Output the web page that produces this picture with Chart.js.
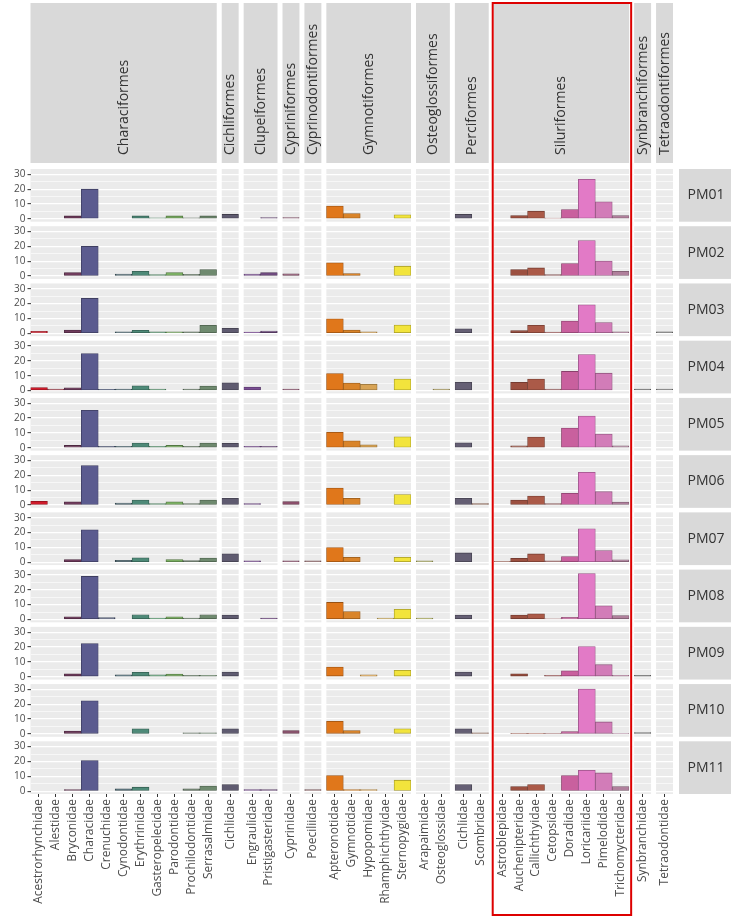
<!DOCTYPE html>
<html>
<head>
<meta charset="utf-8">
<script src="https://cdn.jsdelivr.net/npm/chart.js@4.4.1/dist/chart.umd.min.js"></script>
<style>
  html, body { margin: 0; padding: 0; background: #fff; }
  canvas { display: block; }
</style>
</head>
<body>
<canvas id="fish-chart" width="731" height="919"></canvas>
<script>
const orders = ['Characiformes', 'Cichliformes', 'Clupeiformes', 'Cypriniformes', 'Cyprinodontiformes',
  'Gymnotiformes', 'Osteoglossiformes', 'Perciformes', 'Siluriformes', 'Synbranchiformes', 'Tetraodontiformes'];

const familiesByOrder = [
  ['Acestrorhynchidae', 'Alestidae', 'Bryconidae', 'Characidae', 'Crenuchidae', 'Cynodontidae',
   'Erythrinidae', 'Gasteropelecidae', 'Parodontidae', 'Prochilodontidae', 'Serrasalmidae'],
  ['Cichlidae'],
  ['Engraulidae', 'Pristigasteridae'],
  ['Cyprinidae'],
  ['Poeciliidae'],
  ['Apteronotidae', 'Gymnotidae', 'Hypopomidae', 'Rhamphichthyidae', 'Sternopygidae'],
  ['Arapaimidae', 'Osteoglossidae'],
  ['Cichlidae', 'Scombridae'],
  ['Astroblepidae', 'Auchenipteridae', 'Callichthyidae', 'Cetopsidae', 'Doradidae', 'Loricariidae',
   'Pimelodidae', 'Trichomycteridae'],
  ['Synbranchidae'],
  ['Tetraodontidae']
];

const sites = ['PM01', 'PM02', 'PM03', 'PM04', 'PM05', 'PM06', 'PM07', 'PM08', 'PM09', 'PM10', 'PM11'];

// counts per family, in the order of familiesByOrder flattened (null = not caught)
//           Characiformes ........................................................ | Cich | Clupei    | Cypr | Poec | Gymnotiformes .................. | Osteogl   | Perciformes | Siluriformes ................................. | Syn | Tet
const pm01 = [null, null, 2, 20, null, null, 2, 0.7, 2, 0.7, 2,         3,    null, 0.8, 0.8,  null, 8.6, 3.6, null, null, 2.7,   null, null, 3, null,    null, 2.2, 5.2, 0.5, 6.3, 26.6, 11.5, 2.2,  null, null];
const pm02 = [null, null, 2.4, 20, null, 1.3, 3.3, 1, 2.4, 1.2, 4.4,    null, 1.3, 2.4,  1.5,  null, 8.9, 1.7, null, null, 6.7,   null, null, null, null, null, 4.4, 5.5, 1, 8.4, 24, 10.2, 3.3,      null, null];
const pm03 = [1.3, null, 2.2, 23.5, null, 1.1, 2, 1, 1, 1, 5.4,         3.4,  0.8, 1.6,  null, null, 9.8, 2.2, 1, null, 5.6,      null, null, 3, null,    null, 1.8, 5.4, 0.8, 8.3, 19.2, 7.2, 1,     null, 1];
const pm04 = [2, 1, 1.8, 25, 0.8, 1, 3.2, 1, null, 1, 3,                5.2,  2.4, null, 1,    null, 11.5, 5, 4.3, null, 7.7,     null, 1, 5.5, null,     null, 5.6, 7.7, 1, 12.9, 24.2, 11.7, null,  1, 1];
const pm05 = [null, null, 1.6, 25.3, 1, 1, 3.2, 1, 1.6, 1, 3.2,         3,    1, 1,      null, null, 10.4, 4.7, 2, null, 7.4,     null, null, 3.4, null,  null, 1.3, 7.2, null, 13.3, 21.4, 9.3, 1.3, null, null];
const pm06 = [2.5, null, 2.2, 26.6, null, 1.3, 3.4, 1, 2.2, 1, 3.4,     4.5,  1, null,   2.3,  null, 11.5, 4.5, null, null, 7,     null, null, 4.5, 1,     null, 3.4, 6.1, 1, 7.9, 22, 9, 2,           null, null];
const pm07 = [null, null, 1.8, 21.8, null, 1.3, 3, null, 1.8, 1.2, 2.8, 5.7,  1, null,   1,    1,    9.9, 3.4, null, null, 3.4,    1, null, 6.3, null,     0.5, 2.7, 5.6, 1, 3.8, 22.6, 7.9, 1.6,      null, null];
const pm08 = [null, null, 1.8, 29, 1.3, null, 3.2, 1, 1.8, 1, 3.2,      3,    null, 1,   null, null, 11.5, 5.4, null, 1, 6.8,      1, null, 3, null,       null, 3, 3.8, 0.5, 1.5, 31, 9.2, 2.7,       null, null];
const pm09 = [null, null, 2, 22.3, null, 1.3, 3, 1.3, 1.8, 1, 1,        3.2,  null, null, null, null, 6.5, null, 1.3, null, 4.3,  null, null, 3.2, null,  null, 2, null, 1, 4, 20.3, 8.1, 1,          1, null];
const pm10 = [null, null, 2, 22.3, null, null, 3.4, null, null, 0.8, 0.8, 3.4, null, null, 2.2, null, 8.5, 2.3, null, null, 3.4,   null, null, 3.4, 0.8,   null, 0.5, 0.5, 0.5, 1.6, 30.2, 8.1, 0.5,   1, null];
const pm11 = [null, null, 1.1, 20.6, null, 1.6, 2.7, null, null, 1.6, 3.4, 4.5, 1, 1,     null, 1,    10.5, 1, 1, null, 7.4,       null, null, 4.5, null,  null, 3.1, 4.5, null, 10.5, 14, 12.3, 3.1,  null, null];
const siteCounts = [pm01, pm02, pm03, pm04, pm05, pm06, pm07, pm08, pm09, pm10, pm11];

const yMajorTicks = [0, 10, 20, 30];
const yMinorTicks = [5, 15, 25];

// fill colour of each family (same flattened order)
const familyColors = [
  '#cf1b2b', '#a03a48', '#6f3b5c', '#5b5b8f', '#505a78', '#4a6670', '#4e8a78', '#5c9a72', '#7aae62', '#667a66', '#6f8a6f',
  '#5f5b70',
  '#7a4e93', '#6e4a7e',
  '#8a4e6a',
  '#8d6266',
  '#e0771b', '#d9842a', '#d8a456', '#c4a862', '#f2e43c',
  '#aaaa60', '#b0a060',
  '#655f74', '#9a6a58',
  '#8a4a3c', '#9c5040', '#ab5a48', '#a06262', '#c9609e', '#e27ac6', '#d27cb8', '#b0809c',
  '#6e6e6e',
  '#7a7a7a'
];

const FONT = "'Open Sans', 'DejaVu Sans', sans-serif";
const Y_MIN = -1.9, Y_MAX = 33.6;
const COL_GAP = 0.295;   // gap between facet columns, in family widths
const ROW_GAP = 0.086;   // gap between facet rows, in panel heights

function darken(hex, f) {
  const n = parseInt(hex.slice(1), 16);
  const r = Math.round(((n >> 16) & 255) * f), g = Math.round(((n >> 8) & 255) * f), b = Math.round((n & 255) * f);
  return 'rgb(' + r + ',' + g + ',' + b + ')';
}

const yTicks = yMajorTicks.concat(yMinorTicks).sort((a, b) => a - b);
const isMajor = v => yMajorTicks.indexOf(v) !== -1;

const scales = {};
familiesByOrder.forEach((fams, i) => {
  if (i > 0) {
    scales['xgap' + i] = {
      axis: 'x', type: 'linear', position: 'bottom', stack: 'cols',
      stackWeight: COL_GAP, weight: 2 * i - 1, display: false
    };
  }
  scales['x' + i] = {
    axis: 'x', type: 'category', labels: fams, position: 'bottom', stack: 'cols',
    stackWeight: fams.length, weight: 2 * i, offset: true,
    grid: { display: true, drawOnChartArea: false, offset: false, drawTicks: true, tickLength: 3, tickColor: '#333', tickWidth: 1 },
    border: { display: false },
    ticks: { autoSkip: false, minRotation: 90, maxRotation: 90, padding: 2, color: '#4d4d4d', font: { family: FONT, size: 12 } },
    afterFit: s => { s.height = 125; }
  };
});
sites.forEach((site, r) => {
  if (r > 0) {
    scales['ygap' + r] = {
      axis: 'y', type: 'linear', position: 'left', stack: 'rows',
      stackWeight: ROW_GAP, weight: 2 * (10 - r) + 1, display: false
    };
  }
  scales['y' + r] = {
    axis: 'y', type: 'linear', position: 'left', stack: 'rows', stackWeight: 1, weight: 2 * (10 - r),
    min: Y_MIN, max: Y_MAX, bounds: 'data',
    afterBuildTicks: s => { s.ticks = yTicks.map(v => ({ value: v })); },
    afterFit: s => { s.width = 30.5; },
    grid: {
      color: '#ffffff',
      lineWidth: c => isMajor(c.tick.value) ? 1.3 : 0.6,
      drawTicks: true, tickLength: 3, tickWidth: 1,
      tickColor: c => isMajor(c.tick.value) ? '#333333' : 'rgba(0,0,0,0)'
    },
    border: { display: false },
    ticks: { autoSkip: false, padding: 2, color: '#4d4d4d', font: { family: FONT, size: 10 },
      callback: v => isMajor(v) ? String(v) : '' }
  };
});

const datasets = [];
siteCounts.forEach((counts, r) => {
  let start = 0;
  familiesByOrder.forEach((fams, o) => {
    const idx = fams.map((_, k) => start + k);
    datasets.push({
      label: sites[r] + ' ' + orders[o],
      xAxisID: 'x' + o,
      yAxisID: 'y' + r,
      data: idx.map(k => counts[k]),
      backgroundColor: idx.map(k => familyColors[k]),
      borderColor: idx.map(k => darken(familyColors[k], 0.68)),
      borderWidth: 0.8,
      borderSkipped: false,
      grouped: false,
      barPercentage: 1,
      categoryPercentage: 1
    });
    start += fams.length;
  });
});

const facetPanels = {
  id: 'facetPanels',
  beforeDraw(chart) {
    const ctx = chart.ctx;
    ctx.save();
    ctx.fillStyle = '#ffffff';
    ctx.fillRect(0, 0, chart.width, chart.height);
    ctx.fillStyle = '#ebebeb';
    orders.forEach((_, o) => {
      const xs = chart.scales['x' + o];
      sites.forEach((_, r) => {
        const ys = chart.scales['y' + r];
        ctx.fillRect(xs.left, ys.top, xs.width, ys.height);
      });
    });
    ctx.restore();
  },
  afterDraw(chart) {
    const ctx = chart.ctx;
    const area = chart.chartArea;
    ctx.save();
    ctx.font = '14px ' + FONT;
    // strips on top
    orders.forEach((name, o) => {
      const xs = chart.scales['x' + o];
      ctx.fillStyle = '#d9d9d9';
      ctx.fillRect(xs.left, 3, xs.width, area.top - 9);
      ctx.save();
      ctx.translate((xs.left + xs.right) / 2, area.top - 14);
      ctx.rotate(-Math.PI / 2);
      ctx.fillStyle = '#333333';
      ctx.textAlign = 'left';
      ctx.textBaseline = 'middle';
      ctx.fillText(name, 0, 0);
      ctx.restore();
    });
    // strips on the right
    sites.forEach((site, r) => {
      const ys = chart.scales['y' + r];
      ctx.fillStyle = '#d9d9d9';
      ctx.fillRect(area.right + 6, ys.top, chart.width - area.right, ys.height);
      ctx.fillStyle = '#333333';
      ctx.textAlign = 'center';
      ctx.textBaseline = 'middle';
      ctx.fillText(site, area.right + 33, (ys.top + ys.bottom) / 2);
    });
    // highlight box round Siluriformes
    const sx = chart.scales.x8;
    ctx.strokeStyle = '#dd0000';
    ctx.lineWidth = 2;
    ctx.strokeRect(sx.left - 1, 3, sx.width + 3, chart.height - 7);
    ctx.restore();
  }
};

new Chart(document.getElementById('fish-chart'), {
  type: 'bar',
  data: { datasets: datasets },
  options: {
    responsive: false,
    animation: false,
    devicePixelRatio: 1,
    events: [],
    layout: { padding: { top: 169, right: 58, bottom: 0, left: 0 } },
    plugins: { legend: { display: false }, tooltip: { enabled: false } },
    scales: scales
  },
  plugins: [facetPanels]
});
</script>
</body>
</html>
